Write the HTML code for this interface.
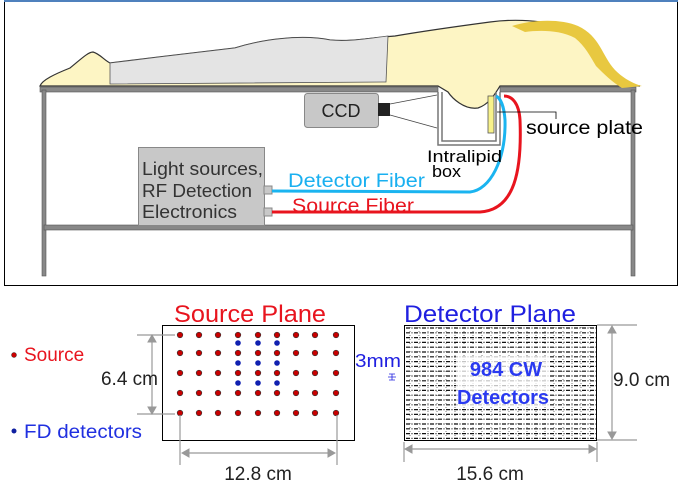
<!DOCTYPE html>
<html><head><meta charset="utf-8"><style>
html,body{margin:0;padding:0;background:#fff;}
svg{display:block;font-family:"Liberation Sans",sans-serif;}
</style></head><body>
<svg id="s" width="682" height="486" viewBox="0 0 682 486">
<g>
<rect x="4.5" y="1.5" width="673" height="284" fill="#fff" stroke="#000" stroke-width="1"/>
<rect x="4" y="0" width="674" height="2" fill="#4f81bd"/>
<g fill="#888" stroke="#555" stroke-width="0.6">
<rect x="40" y="87" width="398" height="5"/>
<rect x="500" y="87" width="136" height="5"/>
<rect x="42" y="90" width="4" height="186"/>
<rect x="631" y="90" width="4" height="186"/>
<rect x="44" y="225" width="589" height="5"/>
</g>
<g>
<path d="M40 86 C42 80 55 74 70 68 C80 60 88 52 93 52 C100 54 104 60 110 63 C150 58 200 52 235 48 C260 40 300 34 330 40 C350 42 370 38 395 36 C430 30 460 26 490 22 C520 18 540 22 560 24 C585 30 600 50 610 68 C615 78 625 84 640 86 L500 86 C496 92 490 104 478 108 C464 110 452 98 448 92 L438 86 Z" fill="#fdf5c4" stroke="#333" stroke-width="1.2"/>
<path d="M110 63 C150 58 200 52 235 48 C260 40 300 34 330 40 C350 42 370 38 388 36 L386 82 L110 84 Z" fill="#e4e4e4" stroke="#555" stroke-width="0.8"/>
<path d="M512 26 C530 20 560 18 578 26 C600 36 602 56 615 70 C625 80 635 84 642 86 L622 88 C612 82 604 74 596 66 C590 56 585 46 575 38 C560 30 540 30 525 32 Z" fill="#e8c840"/>
</g>
<path d="M438 92 L438 145 L500 145 L500 92 M442 92 L442 141 L496 141 L496 92" fill="none" stroke="#777" stroke-width="1.5"/>
<rect x="488" y="96" width="6" height="37" fill="#f8f28a" stroke="#555" stroke-width="0.8"/>
<rect x="304.5" y="93.5" width="74" height="34" rx="3" fill="#c8c8c8" stroke="#888"/>
<text x="341" y="117" font-size="18" fill="#222" text-anchor="middle">CCD</text>
<rect x="378" y="103" width="12" height="13" fill="#222"/>
<path d="M390 104 L437 95 M390 115 L437 128" stroke="#444" stroke-width="0.8" fill="none"/>
<rect x="138.5" y="147.5" width="126" height="78" fill="#c8c8c8" stroke="#888"/>
<rect x="264" y="186" width="8" height="8" fill="#c8c8c8" stroke="#888"/>
<rect x="264" y="208" width="8" height="8" fill="#c8c8c8" stroke="#888"/>
<g font-size="18" fill="#333">
<text x="142" y="175" textLength="121" lengthAdjust="spacingAndGlyphs">Light sources,</text>
<text x="142" y="197" textLength="110" lengthAdjust="spacingAndGlyphs">RF Detection</text>
<text x="142" y="218" textLength="95" lengthAdjust="spacingAndGlyphs">Electronics</text>
</g>
<path d="M272 191 L470 192 C490 190 506 160 505 120 C504 105 500 98 496 96" fill="none" stroke="#1ab4f0" stroke-width="3"/>
<path d="M272 212 L480 212 C515 210 522 170 520 120 C519 103 512 96 504 96" fill="none" stroke="#e8141e" stroke-width="3"/>
<text x="288" y="187" font-size="19" fill="#1ab0f0" textLength="137" lengthAdjust="spacingAndGlyphs">Detector Fiber</text>
<text x="292" y="212" font-size="19" fill="#e8141e" textLength="122" lengthAdjust="spacingAndGlyphs">Source Fiber</text>
<path d="M497 112 L556 112 L556 119" fill="none" stroke="#000" stroke-width="0.8"/>
<text x="526" y="134" font-size="19" fill="#000" textLength="117" lengthAdjust="spacingAndGlyphs">source plate</text>
<text x="427" y="162" font-size="17" fill="#000" textLength="75" lengthAdjust="spacingAndGlyphs">Intralipid</text>
<text x="432" y="177" font-size="17" fill="#000" textLength="29" lengthAdjust="spacingAndGlyphs">box</text>
</g>
<g>
<text x="250" y="322" font-size="24" fill="#e8141e" text-anchor="middle" textLength="152" lengthAdjust="spacingAndGlyphs">Source Plane</text>
<rect x="162.5" y="325.5" width="192" height="115" fill="#fff" stroke="#000"/>
<g id="dots"></g>
<circle cx="14" cy="355" r="2.5" fill="#c00" stroke="#333" stroke-width="0.5"/>
<text x="24" y="361" font-size="19" fill="#e8141e">Source</text>
<circle cx="14" cy="431" r="2.5" fill="#1020a0"/>
<text x="24" y="438" font-size="19" fill="#2030e0" textLength="118" lengthAdjust="spacingAndGlyphs">FD detectors</text>
<g stroke="#999" fill="#999">
<path d="M137 335 L175 335 M137 414 L175 414 M152 338 L152 411 M180 415 L180 465 M337 415 L337 465 M183 453 L334 453" stroke-width="1.2" fill="none"/>
<path d="M148 342 L152 335 L156 342 Z M148 407 L152 414 L156 407 Z M189 449 L182 453 L189 457 Z M328 449 L335 453 L328 457 Z"/>
</g>
<text x="158" y="385" font-size="19" fill="#222" text-anchor="end">6.4 cm</text>
<text x="258" y="480" font-size="19" fill="#222" text-anchor="middle">12.8 cm</text>
<text x="490" y="322" font-size="24" fill="#2020e0" text-anchor="middle" textLength="172" lengthAdjust="spacingAndGlyphs">Detector Plane</text>
<g id="grid"></g>
<rect x="404.5" y="325.5" width="192" height="115" fill="none" stroke="#000"/>
<rect x="456" y="356" width="94" height="50" fill="#fff" opacity="0.75"/>
<text x="506" y="376" font-size="20" font-weight="bold" fill="#2a3af0" text-anchor="middle">984 CW</text>
<text x="503" y="404" font-size="20" font-weight="bold" fill="#2a3af0" text-anchor="middle" textLength="92" lengthAdjust="spacingAndGlyphs">Detectors</text>
<text x="355" y="367" font-size="18" fill="#2020e0" textLength="46" lengthAdjust="spacingAndGlyphs">3mm</text>
<path d="M392 374 L392 380 M389 374 L395 374 M389 380 L395 380 M388 377 L396 377" stroke="#2020e0" stroke-width="0.8" fill="none"/>
<g stroke="#999" fill="#999">
<path d="M597 325 L637 325 M597 440 L637 440 M612 329 L612 436 M404 442 L404 462 M597 442 L597 462 M408 449 L593 449" stroke-width="1.2" fill="none"/>
<path d="M608 333 L612 326 L616 333 Z M608 432 L612 439 L616 432 Z M412 445 L405 449 L412 453 Z M589 445 L596 449 L589 453 Z"/>
</g>
<text x="613" y="386" font-size="19" fill="#222">9.0 cm</text>
<text x="490" y="480" font-size="19" fill="#222" text-anchor="middle">15.6 cm</text>
</g>
</svg>
<script>
const NS='http://www.w3.org/2000/svg';
const srcCols=[180,199,218,238,258,277,296,315,336];
const srcRows=[335,353,373,393,413];
const fdCols=[238,258,277];
const fdRows=[343,363,383];
const dots=document.getElementById('dots');
srcRows.forEach(y=>srcCols.forEach(x=>{
 const c=document.createElementNS(NS,'circle');
 c.setAttribute('cx',x);c.setAttribute('cy',y);c.setAttribute('r',2.8);
 c.setAttribute('fill','#c80000');c.setAttribute('stroke','#333');c.setAttribute('stroke-width','0.6');
 
 
 dots.appendChild(c);
}));
fdRows.forEach(y=>fdCols.forEach(x=>{
 const c=document.createElementNS(NS,'circle');
 c.setAttribute('cx',x);c.setAttribute('cy',y);c.setAttribute('r',2.8);
 c.setAttribute('fill','#1020b0');
 
 
 dots.appendChild(c);
}));
const g=document.getElementById('grid');
for(let y=328;y<440;y+=4.8){
 const l=document.createElementNS(NS,'line');
 l.setAttribute('x1',406);l.setAttribute('x2',596);l.setAttribute('y1',y);l.setAttribute('y2',y);
 l.setAttribute('stroke','#111');l.setAttribute('stroke-width','1.2');l.setAttribute('stroke-dasharray','4 1.5 1 1.5');
 
 
 g.appendChild(l);
}
for(let x=410;x<596;x+=9){
 const l=document.createElementNS(NS,'line');
 l.setAttribute('x1',x);l.setAttribute('x2',x);l.setAttribute('y1',327);l.setAttribute('y2',439);
 l.setAttribute('stroke','#444');l.setAttribute('stroke-width','0.7');l.setAttribute('stroke-dasharray','1 3');
 
 
 g.appendChild(l);
}
</script>
</body></html>
